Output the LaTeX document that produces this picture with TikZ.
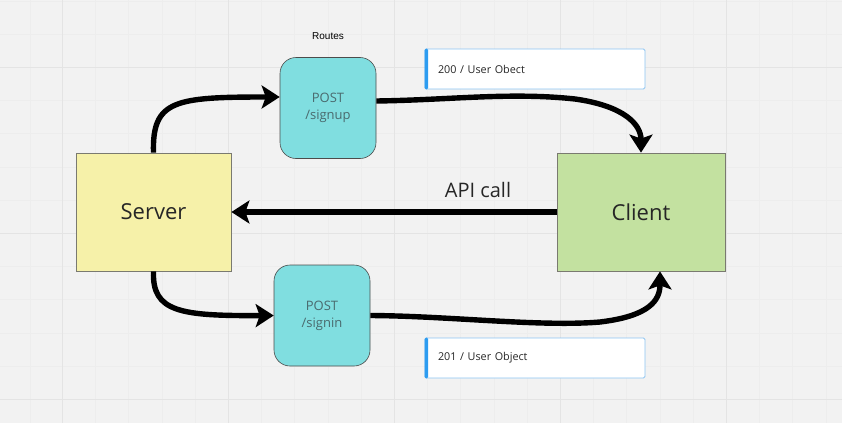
\documentclass[tikz,border=0pt]{standalone}
\usepackage{fontspec}
\setmainfont{Open Sans}
\newfontfamily\arialfont{Liberation Sans}
\usetikzlibrary{arrows.meta}
\definecolor{bg}{HTML}{F2F2F2}
\definecolor{gridmaj}{HTML}{E4E4E4}
\definecolor{gridmin}{HTML}{EDEDED}
\definecolor{serverfill}{HTML}{F6F1A9}
\definecolor{clientfill}{HTML}{C3E1A0}
\definecolor{routefill}{HTML}{80DEE0}
\definecolor{routetext}{HTML}{4A6A6E}
\definecolor{notebar}{HTML}{2D9CF0}
\definecolor{noteborder}{HTML}{8CC4F2}
\definecolor{boxborder}{HTML}{7A7A70}
\tikzset{
  mainbox/.style={draw=boxborder, line width=0.8pt, minimum width=#1, minimum height=118pt, inner sep=0pt, font=\fontsize{22}{26}\selectfont, text=black!85},
  routebox/.style={draw=black!70, line width=0.6pt, fill=routefill, rounded corners=16pt, minimum width=96pt, minimum height=101pt, inner sep=0pt, align=center, font=\fontsize{13}{17}\selectfont, text=routetext},
  notebox/.style={draw=noteborder, line width=0.8pt, fill=white, rounded corners=1.5pt, minimum width=220pt, minimum height=40pt, inner sep=0pt, text width=194pt, align=left, font=\fontsize{10.8}{13}\selectfont, text=black!85},
  flow/.style={line width=5.4pt, -{Stealth[length=18pt,width=23pt,inset=4pt]}},
}
\begin{document}
\begin{tikzpicture}[x=1pt,y=-1pt]
\useasboundingbox (0,0) rectangle (842,423);
\fill[bg] (0,0) rectangle (842,423);
% minor grid
\foreach \x in {29.8,95.4,128.6,161.8,195,261.4,294.6,327.8,361,427.4,460.6,493.8,527,593.4,626.6,659.8,693,759.4,792.6,825.8}
  \draw[gridmin, line width=0.5pt] (\x,0) -- (\x,423);
\foreach \y in {1.4,34.2,100.4,133.6,166.8,200,266.4,299.6,332.8,366}
  \draw[gridmin, line width=0.5pt] (0,\y) -- (842,\y);
% major grid
\foreach \x in {62.2,228.2,394.2,560.2,726.2}
  \draw[gridmaj, line width=1pt] (\x,0) -- (\x,423);
\foreach \y in {67.2,233.2,399.2}
  \draw[gridmaj, line width=1pt] (0,\y) -- (842,\y);

\node[mainbox=155pt, fill=serverfill] (server) at (153.5,212) {Server};
\node[mainbox=168pt, fill=clientfill] (client) at (641,212) {Client};
\node[routebox] (signup) at (328,108) {POST\\/signup};
\node[routebox] (signin) at (322,315.5) {POST\\/signin};
\node[font=\arialfont\fontsize{10}{12}\selectfont, text=black] (routes) at (328,36) {Routes};

\node[notebox] (note200) at (535,69) {200 / User Obect};
\fill[notebar, rounded corners=1.5pt] (note200.north west) rectangle ([xshift=3.5pt]note200.south west);
\node[notebox] (note201) at (535,358) {201 / User Object};
\fill[notebar, rounded corners=1.5pt] (note201.north west) rectangle ([xshift=3.5pt]note201.south west);

\node[font=\fontsize{20}{24}\selectfont, text=black!85] (api) at (478,190) {API call};

\draw[flow] (client.west) -- (server.east);
\draw[flow] (server.north) .. controls (152,100) and (175,97) .. (signup.west |- 0,97);
\draw[flow] (signup.east |- 0,101) .. controls (450,100) and (510,92) .. (575,99) .. controls (625,106) and (641,125) .. (client.north);
\draw[flow] (server.south) .. controls (152,312) and (180,316) .. (signin.west);
\draw[flow] (signin.east) .. controls (450,316) and (540,327) .. (600,322) .. controls (650,316) and (660,300) .. ([xshift=19pt]client.south);
\end{tikzpicture}
\end{document}
